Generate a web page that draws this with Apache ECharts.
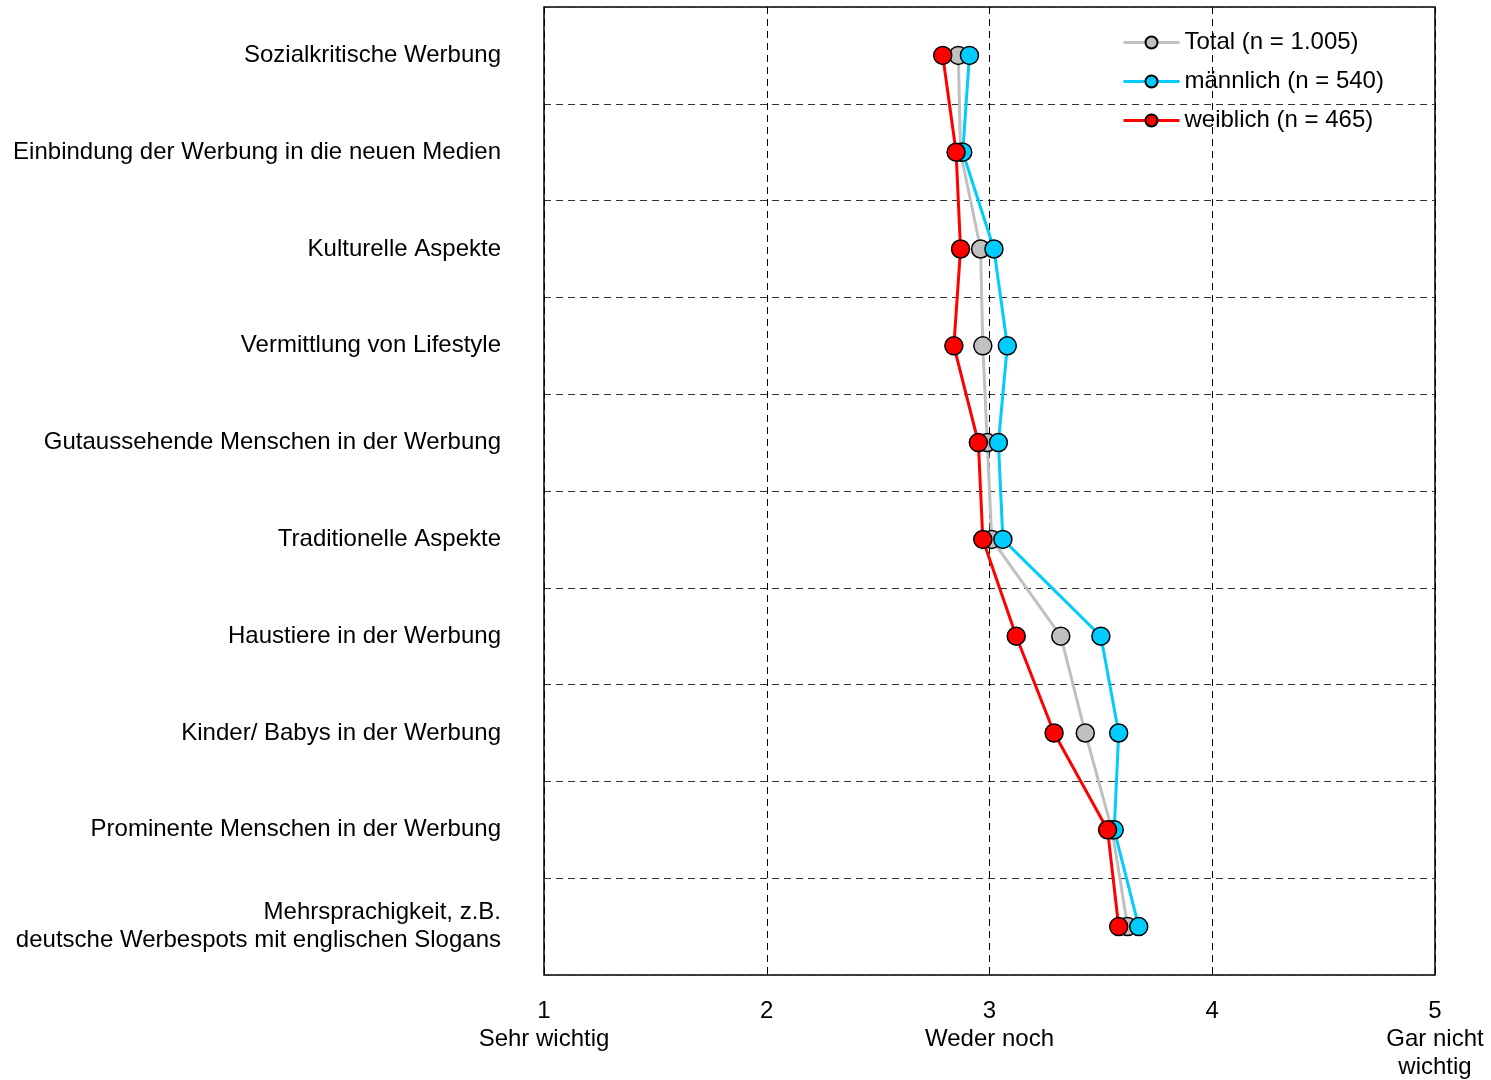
<!DOCTYPE html>
<html>
<head>
<meta charset="utf-8">
<script src="https://cdn.jsdelivr.net/npm/echarts@6/dist/echarts.min.js"></script>
<style>
html,body{margin:0;padding:0;background:#fff;}
#chart{width:1491px;height:1080px;}
</style>
</head>
<body>
<div id="chart"></div>
<script>
// Items rated on a scale from 1 (Sehr wichtig) to 5 (Gar nicht wichtig)
const categories = [
  'Sozialkritische Werbung',
  'Einbindung der Werbung in die neuen Medien',
  'Kulturelle Aspekte',
  'Vermittlung von Lifestyle',
  'Gutaussehende Menschen in der Werbung',
  'Traditionelle Aspekte',
  'Haustiere in der Werbung',
  'Kinder/ Babys in der Werbung',
  'Prominente Menschen in der Werbung',
  'Mehrsprachigkeit, z.B.\ndeutsche Werbespots mit englischen Slogans'
];
const totalValues    = [2.86, 2.87, 2.96, 2.97, 2.99, 3.01, 3.32, 3.43, 3.55, 3.62];
const maleValues     = [2.91, 2.88, 3.02, 3.08, 3.04, 3.06, 3.50, 3.58, 3.56, 3.67];
const femaleValues   = [2.79, 2.85, 2.87, 2.84, 2.95, 2.97, 3.12, 3.29, 3.53, 3.58];
const seriesNames = ['Total (n = 1.005)', 'männlich (n = 540)', 'weiblich (n = 465)'];
const tickLabels = {1: '1\nSehr wichtig', 2: '2', 3: '3\nWeder noch', 4: '4', 5: '5\nGar nicht\nwichtig'};

const FONT = '"Liberation Sans", Arial, sans-serif';
const FONT_SIZE = 24;
const colors = ['#C0C0C0', '#00CCFF', '#FF0000'];

function makeSeries(name, values, color) {
  return {
    name: name,
    type: 'line',
    data: values,
    symbol: 'circle',
    symbolSize: 18,
    lineStyle: {color: color, width: 3},
    itemStyle: {color: color, borderColor: '#000', borderWidth: 1.5},
    emphasis: {disabled: true},
    animation: false
  };
}

const chart = echarts.init(document.getElementById('chart'), null, {renderer: 'canvas'});
chart.setOption({
  backgroundColor: '#fff',
  textStyle: {fontFamily: FONT},
  grid: {
    left: 544, right: 56, top: 7, bottom: 105,
    outerBoundsMode: 'none',
    containLabel: false,
    show: true, borderColor: '#000', borderWidth: 1.5, backgroundColor: 'transparent'
  },
  legend: {
    orient: 'vertical',
    left: 1122,
    top: 29,
    padding: 0,
    itemWidth: 56,
    itemHeight: 15,
    itemGap: 12,
    lineStyle: {width: 3},
    textStyle: {fontFamily: FONT, fontSize: FONT_SIZE, color: '#000', lineHeight: 27},
    data: seriesNames
  },
  xAxis: {
    type: 'value',
    min: 1, max: 5, interval: 1,
    axisLine: {show: false},
    axisTick: {show: false},
    splitLine: {show: true, lineStyle: {color: '#000', type: [7, 5], width: 1}},
    axisLabel: {
      margin: 22,
      fontFamily: FONT, fontSize: FONT_SIZE, color: '#000', lineHeight: 28,
      verticalAlign: 'top',
      showMinLabel: true, showMaxLabel: true,
      hideOverlap: false,
      formatter: v => tickLabels[v] || ''
    }
  },
  yAxis: {
    type: 'category',
    inverse: true,
    data: categories,
    boundaryGap: true,
    axisLine: {show: false},
    axisTick: {show: false},
    splitLine: {show: true, lineStyle: {color: '#333', type: [7, 5], width: 1}},
    axisLabel: {
      margin: 43,
      interval: 0,
      fontFamily: FONT, fontSize: FONT_SIZE, color: '#000', lineHeight: 28,
      align: 'right'
    }
  },
  series: [
    makeSeries(seriesNames[0], totalValues, colors[0]),
    makeSeries(seriesNames[1], maleValues, colors[1]),
    makeSeries(seriesNames[2], femaleValues, colors[2])
  ]
});
</script>
</body>
</html>
